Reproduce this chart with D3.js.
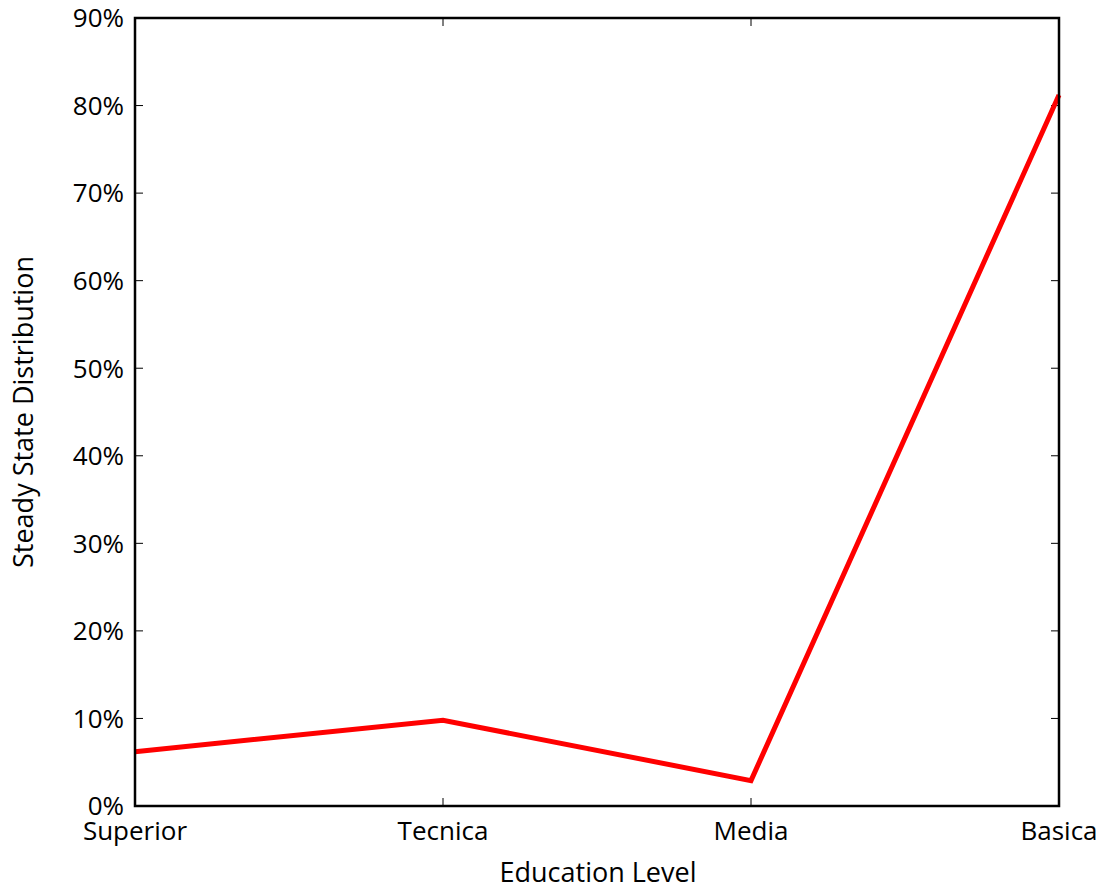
<!DOCTYPE html>
<html>
<head>
<meta charset="utf-8">
<script src="https://cdn.jsdelivr.net/npm/d3@7"></script>
<style>
  html, body { margin: 0; padding: 0; background: #fff; }
  svg text { font-family: "Open Sans", "DejaVu Sans", sans-serif; fill: #000; }
</style>
</head>
<body>
<svg id="chart" width="1107" height="890"></svg>
<script>
// Steady state distribution by education level
const categories = ["Superior", "Tecnica", "Media", "Basica"];
const shares = [0.062, 0.098, 0.029, 0.812];
const yTicks = [0, 0.1, 0.2, 0.3, 0.4, 0.5, 0.6, 0.7, 0.8, 0.9];

const svg = d3.select("#chart");
const m = { left: 135, right: 1059, top: 18, bottom: 806 };

const x = d3.scalePoint().domain(categories).range([m.left, m.right]);
const y = d3.scaleLinear().domain([0, 0.9]).range([m.bottom, m.top]);
const fmt = d => Math.round(d * 100) + "%";

// inward ticks on all four sides
const tickLen = 8;
const g = svg.append("g");
g.selectAll(".yt").data(yTicks).enter().append("line")
  .attr("x1", m.left).attr("x2", m.left + tickLen)
  .attr("y1", d => y(d)).attr("y2", d => y(d))
  .attr("stroke", "#000").attr("stroke-width", 1);
g.selectAll(".yt2").data(yTicks).enter().append("line")
  .attr("x1", m.right).attr("x2", m.right - tickLen)
  .attr("y1", d => y(d)).attr("y2", d => y(d))
  .attr("stroke", "#000").attr("stroke-width", 1);
g.selectAll(".xt").data(categories).enter().append("line")
  .attr("x1", d => x(d)).attr("x2", d => x(d))
  .attr("y1", m.bottom).attr("y2", m.bottom - tickLen)
  .attr("stroke", "#000").attr("stroke-width", 1);
g.selectAll(".xt2").data(categories).enter().append("line")
  .attr("x1", d => x(d)).attr("x2", d => x(d))
  .attr("y1", m.top).attr("y2", m.top + tickLen)
  .attr("stroke", "#000").attr("stroke-width", 1);

// tick labels
g.selectAll(".yl").data(yTicks).enter().append("text")
  .attr("x", m.left - 11).attr("y", d => y(d))
  .attr("dy", "0.36em").attr("text-anchor", "end")
  .attr("font-size", 26).text(fmt);
g.selectAll(".xl").data(categories).enter().append("text")
  .attr("x", d => x(d)).attr("y", m.bottom + 34)
  .attr("text-anchor", "middle")
  .attr("font-size", 26).text(d => d);

// data line
const line = d3.line().x((d, i) => x(categories[i])).y(d => y(d));
svg.append("path").datum(shares)
  .attr("d", line)
  .attr("fill", "none").attr("stroke", "#ff0000")
  .attr("stroke-width", 5).attr("stroke-linejoin", "miter");

// frame
svg.append("rect")
  .attr("x", m.left).attr("y", m.top)
  .attr("width", m.right - m.left).attr("height", m.bottom - m.top)
  .attr("fill", "none").attr("stroke", "#000").attr("stroke-width", 2.5);

// axis titles
svg.append("text")
  .attr("x", (m.left + m.right) / 2 + 1).attr("y", 882)
  .attr("text-anchor", "middle").attr("font-size", 27)
  .text("Education Level");
svg.append("text")
  .attr("transform", `translate(33, ${(m.top + m.bottom) / 2}) rotate(-90)`)
  .attr("text-anchor", "middle").attr("font-size", 27)
  .text("Steady State Distribution");
</script>
</body>
</html>
